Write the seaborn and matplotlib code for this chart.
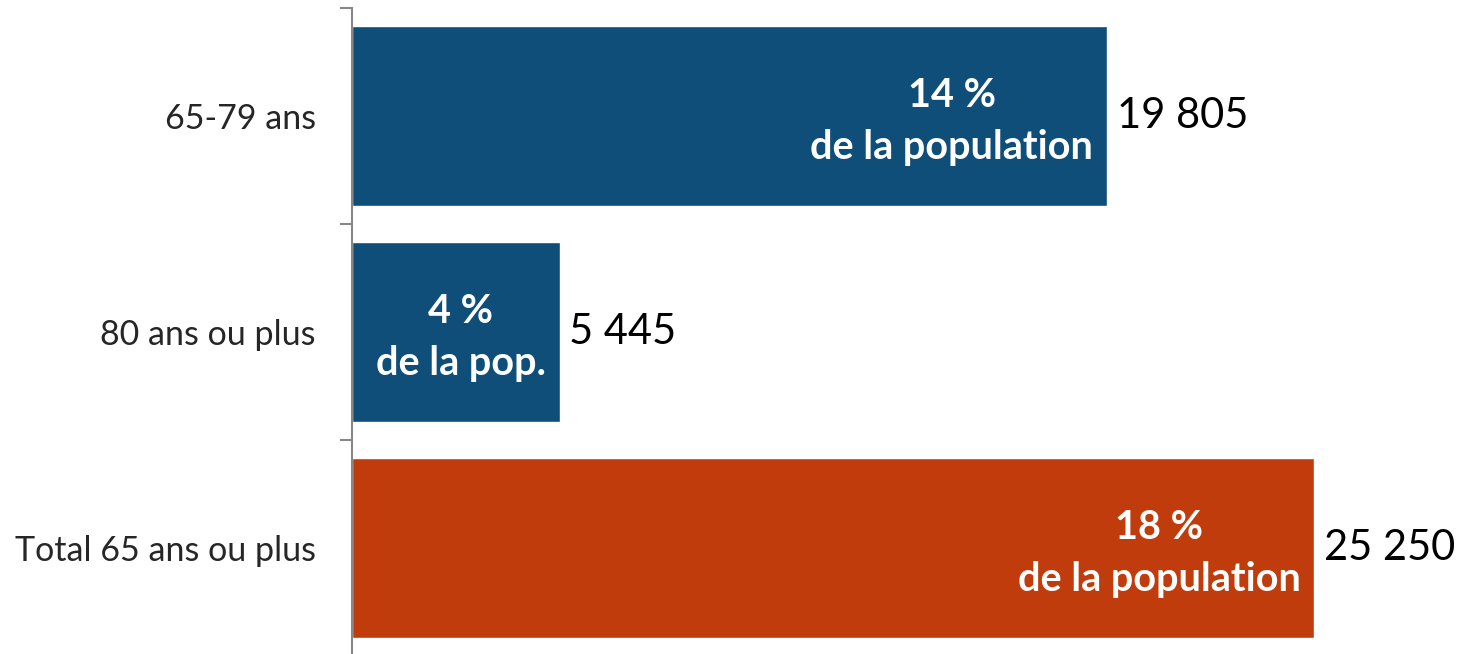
import seaborn as sns
import pandas as pd
import matplotlib.pyplot as plt
from matplotlib.ticker import FixedLocator

categories = ['65-79 ans', '80 ans ou plus', 'Total 65 ans ou plus']
values = [19805, 5445, 25250]
value_labels = ['19 805', '5 445', '25 250']
inner_labels = ['14 %\nde la population', '4 %\nde la pop.', '18 %\nde la population']
colors = ['#0F4E79', '#0F4E79', '#C03C0D']

sns.set_style('white')
plt.rcParams['font.family'] = ['Lato', 'DejaVu Sans']

df = pd.DataFrame({'cat': categories, 'val': values})

fig = plt.figure(figsize=(14.65, 6.54), dpi=100)
ax = fig.add_axes([352/1465, -2/654, 1113/1465, 648/654])
sns.barplot(data=df, y='cat', x='val', hue='cat', palette=colors,
            width=0.833, legend=False, orient='h', ax=ax, saturation=1)

ax.set_xlim(0, 29200)
ax.set_ylim(2.5, -0.5)
ax.set_xlabel('')
ax.set_ylabel('')
ax.set_xticks([])
for s in ['top', 'right', 'bottom']:
    ax.spines[s].set_visible(False)
ax.spines['left'].set_color('#888888')
ax.spines['left'].set_linewidth(1.5)

ax.tick_params(axis='y', which='major', length=0, pad=26, labelsize=24.5)
ax.yaxis.set_minor_locator(FixedLocator([-0.5, 0.5, 1.5, 2.5]))
ax.tick_params(axis='y', which='minor', length=8.5, width=1.5, color='#888888', left=True)

for i, (v, vl, il) in enumerate(zip(values, value_labels, inner_labels)):
    ax.annotate(vl, (v, i), xytext=(7, 0), textcoords='offset points',
                ha='left', va='center', fontsize=30, color='black')
    ax.annotate(il, (v, i), xytext=(-10, -4), textcoords='offset points',
                ha='right', va='center', multialignment='center',
                fontsize=28.5, fontweight='bold', color='white', linespacing=1.5)

fig.savefig('out.png', dpi=100)
